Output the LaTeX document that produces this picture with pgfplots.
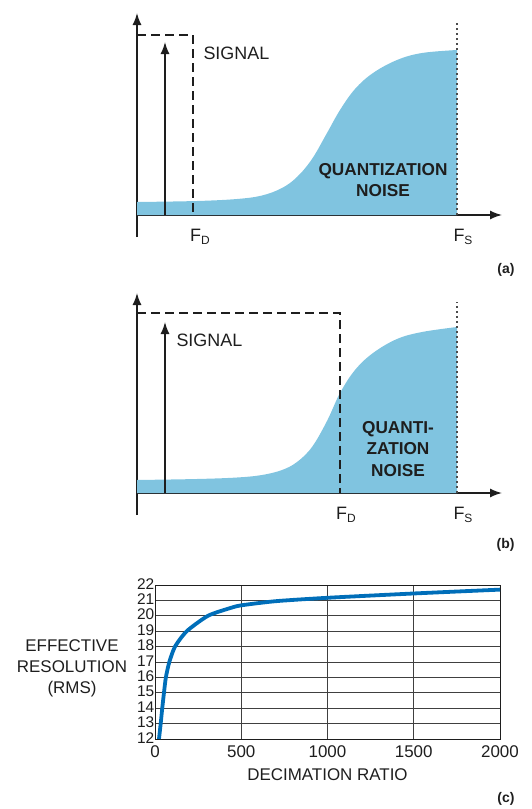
\documentclass[border=0pt]{standalone}
\usepackage{pgfplots}
\pgfplotsset{compat=1.18}
\usetikzlibrary{arrows.meta}
\usepackage{fontspec}
\setmainfont{Liberation Sans}
\definecolor{noise}{RGB}{128,196,224}
\definecolor{curveblue}{RGB}{0,110,185}
\definecolor{ink}{RGB}{30,30,30}
\newcommand{\fsub}[1]{F\raisebox{-0.35ex}{\fontsize{12}{12}\selectfont #1}}
\begin{document}
\begin{tikzpicture}
\useasboundingbox (0bp,0bp) rectangle (532bp,-809bp);
\pgfplotsset{
  spec/.style={
    x=1bp, y=1bp, xmin=0, xmax=365, ymin=-22, ymax=202,
    enlargelimits=false, axis lines=middle, ticks=none,
    axis line style={ink, line width=1.5bp, -{Latex[length=12bp,width=9bp]}},
    clip=false, axis on top=false, anchor=south west,
  },
  noisefill/.style={fill=noise, draw=none, smooth, tension=0.6},
  sigarrow/.style={ink, line width=1.5bp, -{Latex[length=12bp,width=9bp]}},
  dbox/.style={ink, line width=1.5bp, dash pattern=on 9bp off 5bp},
  fsline/.style={ink!80, line width=2bp, dash pattern=on 2bp off 3bp},
}
% ---------- panel (a)
\begin{axis}[spec, at={(137bp,-237bp)}]
\addplot[noisefill] coordinates {(0,13) (60,14) (100,16) (125,19.5) (145,27) (160,38) (175,56) (190,82) (203,105) (218,126) (236,142) (260,155) (285,162) (320,165)} -- (axis cs:320,0) -- (axis cs:0,0) -- cycle;
\addplot[fsline] coordinates {(320,0) (320,193)};
\addplot[sigarrow] coordinates {(28,0) (28,173)};
\addplot[dbox] coordinates {(0,180) (56,180) (56,0)};
\node[anchor=west, text=ink, font=\fontsize{18}{20}\selectfont] at (axis cs:63,162) {SIGNAL};
\node[align=center, text=ink, font=\bfseries\fontsize{17.3}{21}\selectfont] at (axis cs:246,35) {QUANTIZATION\\NOISE};
\node[text=ink, font=\fontsize{18}{20}\selectfont] at (axis cs:63,-22) {\fsub{D}};
\node[text=ink, font=\fontsize{18}{20}\selectfont] at (axis cs:326,-22) {\fsub{S}};
\end{axis}
% ---------- panel (b)
\begin{axis}[spec, at={(137bp,-515bp)}, ymax=200]
\addplot[noisefill] coordinates {(0,13) (60,14) (100,15.5) (125,18) (145,23) (160,31) (175,46) (190,72) (203,100) (218,123) (236,140) (260,154) (285,161) (320,166)} -- (axis cs:320,0) -- (axis cs:0,0) -- cycle;
\addplot[fsline] coordinates {(320,0) (320,191)};
\addplot[sigarrow] coordinates {(28,0) (28,171)};
\addplot[dbox] coordinates {(0,180) (203,180) (203,0)};
\node[anchor=west, text=ink, font=\fontsize{18}{20}\selectfont] at (axis cs:36,153) {SIGNAL};
\node[align=center, text=ink, font=\bfseries\fontsize{17.3}{22}\selectfont] at (axis cs:261,44) {QUANTI-\\ZATION\\NOISE};
\node[text=ink, font=\fontsize{18}{20}\selectfont] at (axis cs:209,-22) {\fsub{D}};
\node[text=ink, font=\fontsize{18}{20}\selectfont] at (axis cs:326,-22) {\fsub{S}};
\end{axis}
% ---------- panel (c)
\begin{axis}[
  scale only axis, width=345bp, height=154bp,
  at={(155bp,-739bp)}, anchor=south west,
  xmin=0, xmax=2000, ymin=12, ymax=22,
  xtick={0,500,1000,1500,2000}, ytick={12,13,...,22},
  grid=major, grid style={ink!85, line width=0.9bp},
  axis line style={ink, line width=1bp},
  major tick length=0pt,
  /pgf/number format/1000 sep={},
  /pgf/number format/assume math mode=true,
  xticklabel style={text=ink, font=\fontsize{17}{16}\selectfont, inner sep=0bp, text height=12bp, text depth=0bp, yshift=-6bp},
  yticklabel style={text=ink, font=\fontsize{15.5}{15}\selectfont, inner sep=0bp, text height=11bp, text depth=0bp, xshift=-0.5bp, yshift=1.5bp},
  xlabel={DECIMATION RATIO},
  xlabel style={text=ink, font=\fontsize{17}{18}\selectfont, at={(axis description cs:0.5,0)}, anchor=center, yshift=-36bp},
  clip=true,
]
\addplot[curveblue, line width=3.8bp, smooth, tension=0.4] coordinates {
(23,12) (33,13) (42,14) (52,15) (63,16) (83,17) (116,18) (184,19) (307,20) (435,20.5) (500,20.68) (700,20.95) (1000,21.17) (1500,21.45) (2000,21.7)};
\end{axis}
\node[align=center, text=ink, font=\fontsize{17}{21}\selectfont] at (72bp,-668bp) {EFFECTIVE\\RESOLUTION\\(RMS)};
% panel labels
\node[anchor=east, text=ink, font=\bfseries\fontsize{14}{16}\selectfont] at (518bp,-270bp) {(a)};
\node[anchor=east, text=ink, font=\bfseries\fontsize{14}{16}\selectfont] at (518bp,-545bp) {(b)};
\node[anchor=east, text=ink, font=\bfseries\fontsize{14}{16}\selectfont] at (518bp,-799bp) {(c)};
\end{tikzpicture}
\end{document}
